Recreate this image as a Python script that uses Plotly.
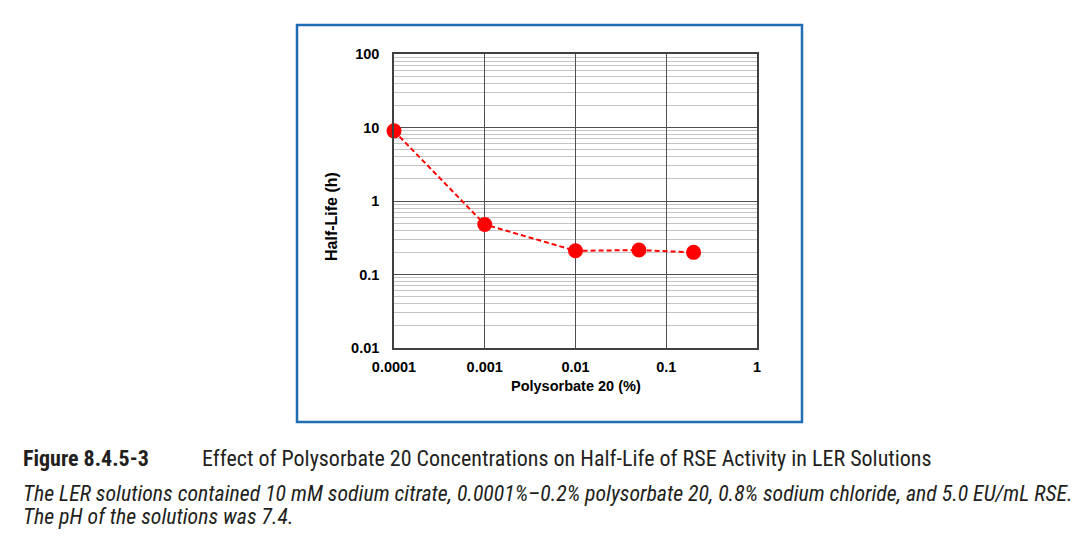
import plotly.graph_objects as go

conc = [0.0001, 0.001, 0.01, 0.05, 0.2]
half_life = [9.0, 0.48, 0.21, 0.215, 0.2]

x_tickvals = [0.0001, 0.001, 0.01, 0.1, 1]
x_ticktext = ["0.0001", "0.001", "0.01", "0.1", "1"]
y_tickvals = [0.01, 0.1, 1, 10, 100]
y_ticktext = ["0.01", "0.1", "1", "10", "100"]

OFF = 8  # page body margin
W, H = 1087 - OFF, 539 - OFF
L, R, T, B = 394 - OFF, 757 - OFF, 54 - OFF, 348 - OFF


def px(x):
    return (x - OFF - L) / (R - L)


def py(y):
    return (B - (y - OFF)) / (B - T)


fig = go.Figure()
fig.add_trace(go.Scatter(
    x=conc, y=half_life, mode="lines+markers",
    line=dict(color="#ff0000", width=2, dash="5px,3px"),
    marker=dict(color="#ff0000", size=15),
    cliponaxis=False, showlegend=False,
))

tick_font = dict(size=14.5, family="Liberation Sans, Arial", weight="bold", color="#000000")

fig.update_layout(
    width=W, height=H,
    margin=dict(l=L, r=W - R, t=T, b=H - B, autoexpand=False),
    paper_bgcolor="white", plot_bgcolor="white",
    font=dict(family="Liberation Sans, Arial", color="#000000"),
    xaxis=dict(
        type="log", range=[-4, 0],
        tickvals=x_tickvals, ticktext=x_ticktext, tickfont=tick_font,
        showgrid=True, gridcolor="#505050", gridwidth=1,
        showline=True, linecolor="#404040", linewidth=1.5, mirror=True,
        ticks="", zeroline=False, ticklabelstandoff=5,
    ),
    yaxis=dict(
        type="log", range=[-2, 2],
        tickvals=y_tickvals, ticktext=y_ticktext, tickfont=tick_font,
        showgrid=True, gridcolor="#505050", gridwidth=1,
        minor=dict(showgrid=True, gridcolor="#c4c4c4", gridwidth=1, dtick="D1", ticks=""),
        showline=True, linecolor="#404040", linewidth=1.5, mirror=True,
        ticks="", zeroline=False, ticklabelstandoff=10,
    ),
)

# axis titles
fig.add_annotation(xref="paper", yref="paper", x=px(575.5), y=py(386),
                   xanchor="center", yanchor="middle", showarrow=False,
                   text="<b>Polysorbate 20 (%)</b>",
                   font=dict(size=14.5, family="Liberation Sans, Arial", color="#000000"))
fig.add_annotation(xref="paper", yref="paper", x=px(331), y=py(217),
                   xanchor="center", yanchor="middle", showarrow=False, textangle=-90,
                   text="<b>Half-Life (h)</b>",
                   font=dict(size=16, family="Liberation Sans, Arial", color="#000000"))

# blue frame around the chart
fig.add_shape(type="rect", xref="paper", yref="paper",
              x0=px(297), x1=px(802), y0=py(422), y1=py(25),
              line=dict(color="#1f6db3", width=2.5), layer="below")

cap_font = "Liberation Sans Narrow, Roboto Condensed, Arial Narrow, Liberation Sans"
cap_col = "#231f20"
fig.add_annotation(xref="paper", yref="paper", x=px(21), y=py(459),
                   xanchor="left", yanchor="middle", showarrow=False,
                   text="<b>Figure 8.4.5-3</b>", font=dict(size=22, family=cap_font, color=cap_col))
fig.add_annotation(xref="paper", yref="paper", x=px(200), y=py(459),
                   xanchor="left", yanchor="middle", showarrow=False,
                   text="Effect of Polysorbate 20 Concentrations on Half-Life of RSE Activity in LER Solutions",
                   font=dict(size=22, family=cap_font, color=cap_col))
fig.add_annotation(xref="paper", yref="paper", x=px(21), y=py(494),
                   xanchor="left", yanchor="middle", showarrow=False,
                   text="<i>The LER solutions contained 10 mM sodium citrate, 0.0001%–0.2% polysorbate 20, 0.8% sodium chloride, and 5.0 EU/mL RSE.</i>",
                   font=dict(size=21.8, family=cap_font, color=cap_col))
fig.add_annotation(xref="paper", yref="paper", x=px(21), y=py(517),
                   xanchor="left", yanchor="middle", showarrow=False,
                   text="<i>The pH of the solutions was 7.4.</i>",
                   font=dict(size=21.8, family=cap_font, color=cap_col))

fig.write_html("out.html")
